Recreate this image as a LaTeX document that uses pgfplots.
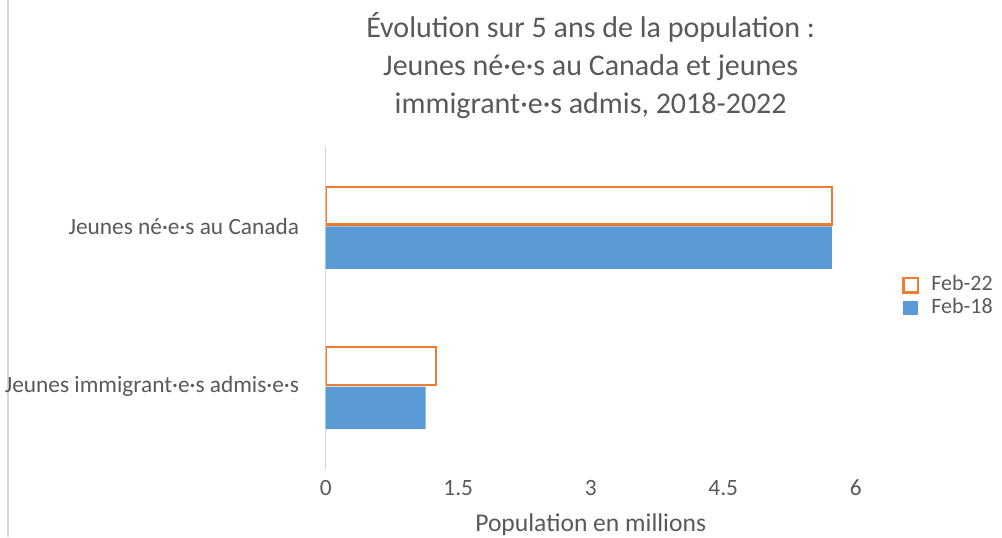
\documentclass[border=0pt]{standalone}
\usepackage{pgfplots}
\pgfplotsset{compat=1.18}
\usepackage{fontspec}
\setmainfont{Carlito}
\definecolor{txt}{HTML}{595959}
\definecolor{ora}{HTML}{ED7D31}
\definecolor{blu}{HTML}{5B9BD5}
\definecolor{axl}{HTML}{D9D9D9}
\begin{document}
\begin{tikzpicture}
\draw[color=axl, line width=0.8pt] (6pt,0pt) -- (6pt,402.75pt);
\begin{axis}[
  at={(244.3pt,50.25pt)}, anchor=south west,
  scale only axis, width=397.5pt, height=243pt,
  xmin=0, xmax=6, ymin=-0.52, ymax=1.5,
  xtick={0,1.5,3,4.5,6}, ytick={0,1},
  yticklabels={Jeunes immigrant·e·s admis·e·s, Jeunes né·e·s au Canada},
  axis x line*=bottom, axis y line*=left,
  x axis line style={draw=none},
  y axis line style={draw=axl, line width=1pt, -},
  major tick length=0pt,
  /pgf/number format/assume math mode=true,
  tick label style={font=\fontsize{17.5}{20}\selectfont, text=txt},
  xticklabel style={yshift=-4pt},
  yticklabel style={xshift=-16.5pt},
  xlabel={Population en millions},
  xlabel style={font=\fontsize{19.2}{22}\selectfont, text=txt, at={(axis description cs:0.5,0)}, anchor=center, yshift=-41pt},
  reverse legend,
  legend style={at={(axis description cs:1.087,0.535)}, anchor=west, draw=none, fill=none,
    font=\fontsize{16.5}{18}\selectfont, text=txt, row sep=1pt, inner sep=0pt,
    nodes={inner sep=1pt, text height=11pt, text depth=3pt}},
  legend image code/.code={\path[#1] (0pt,-5.5pt) rectangle (11pt,5.5pt); \path[draw=none,fill=none] (0pt,0pt) -- (20pt,0pt);},
]
\addplot[xbar, bar width=0.265, bar shift=-0.133, fill=blu, draw=none] coordinates {(1.13,0) (5.73,1)};
\addlegendentry{Feb-18}
\addplot[xbar, bar width=0.235, bar shift=0.128, fill=white, draw=ora, line width=1.9pt] coordinates {(1.25,0) (5.73,1)};
\addlegendentry{Feb-22}
\end{axis}
\node[font=\fontsize{22.5}{28.5}\selectfont, text=txt, align=center] at (443pt,353.5pt)
  {Évolution sur 5 ans de la population :\\Jeunes né·e·s au Canada et jeunes\\immigrant·e·s admis, 2018-2022};
\pgfresetboundingbox
\useasboundingbox (0pt,0pt) rectangle (751.5pt,402.75pt);
\end{tikzpicture}
\end{document}
